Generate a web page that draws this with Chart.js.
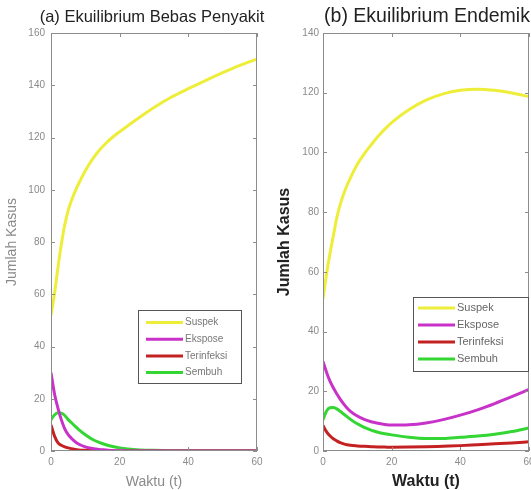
<!DOCTYPE html>
<html>
<head>
<meta charset="utf-8">
<script src="https://cdn.jsdelivr.net/npm/chart.js@4.4.0/dist/chart.umd.min.js"></script>
<style>
  body { margin: 0; background: #fff; }
  #wrapA { position: absolute; left: 0; top: 0; width: 280px; height: 490px; }
  #wrapB { position: absolute; left: 265px; top: 0; width: 266px; height: 490px; }
</style>
</head>
<body>
<div id="wrapA"><canvas id="chartA"></canvas></div>
<div id="wrapB"><canvas id="chartB"></canvas></div>
<script>
// time points (t) shared by both panels
const waktu = [0, 1, 2, 3, 4, 5, 6, 7, 8, 10, 12, 14, 16, 18, 20, 25, 30, 35, 40, 45, 50, 55, 60];
const namaSeri = ['Suspek', 'Ekspose', 'Terinfeksi', 'Sembuh'];
const xTicks = [0, 20, 40, 60];

// (a) disease-free equilibrium
const suspekA     = [52, 60, 70, 79, 86.5, 92, 96, 99.3, 102.2, 107.3, 111.5, 115, 117.8, 120.2, 122.2, 127, 131.5, 135.4, 138.7, 141.8, 144.8, 147.6, 150];
const eksposeA    = [30, 22, 16.5, 12, 8.5, 6.3, 4.8, 3.6, 2.7, 1.6, 1, 0.6, 0.4, 0.2, 0.1, 0, 0, 0, 0, 0, 0, 0, 0];
const terinfeksiA = [10, 5.8, 3.2, 2.2, 1.6, 1.2, 0.9, 0.6, 0.4, 0.25, 0.15, 0.1, 0.05, 0, 0, 0, 0, 0, 0, 0, 0, 0, 0];
const sembuhA     = [12, 13.8, 14.6, 14.5, 13.6, 12, 10.8, 9.5, 8.3, 6.2, 4.5, 3.3, 2.4, 1.7, 1.2, 0.5, 0.25, 0.1, 0.05, 0.05, 0.05, 0.05, 0.05];
const yTicksA = [0, 20, 40, 60, 80, 100, 120, 140, 160];

// (b) endemic equilibrium
const suspekB     = [51, 59, 66, 72, 78, 82.5, 86, 89, 91.5, 96, 99.5, 102.5, 105.3, 107.8, 110, 114.3, 117.5, 119.6, 120.8, 121.2, 120.8, 119.9, 118.7];
const eksposeB    = [30, 26.5, 23.5, 21.2, 19.2, 17.4, 15.8, 14.4, 13.3, 11.7, 10.6, 9.8, 9.3, 8.9, 8.7, 8.8, 9.4, 10.5, 12, 13.8, 15.9, 18.2, 20.6];
const terinfeksiB = [8.5, 6.5, 5.1, 4.1, 3.4, 2.8, 2.4, 2.1, 1.9, 1.7, 1.55, 1.45, 1.35, 1.3, 1.25, 1.3, 1.4, 1.6, 1.8, 2.1, 2.4, 2.7, 3.1];
const sembuhB     = [10.5, 13.3, 14.5, 14.6, 14.1, 13.3, 12.4, 11.5, 10.6, 9.1, 7.9, 7, 6.3, 5.8, 5.4, 4.6, 4.2, 4.2, 4.6, 5, 5.6, 6.5, 7.7];
const yTicksB = [0, 20, 40, 60, 80, 100, 120, 140];

const warna = ['#eeee3a', '#c832c8', '#c42222', '#33d633'];
const FONT = "'Liberation Sans', Arial, sans-serif";

// MATLAB-like frame with inward ticks, the panel title and a legend inside the axes
const framePlugin = {
  id: 'frame',
  afterDraw(chart, args, o) {
    const { ctx, chartArea: a, scales: { x, y } } = chart;
    ctx.save();
    ctx.strokeStyle = '#8c8c8c';
    ctx.lineWidth = 1;
    ctx.strokeRect(a.left + 0.5, a.top + 0.5, a.width - 1, a.height - 1);
    ctx.beginPath();
    x.ticks.forEach(t => {
      const px = Math.round(x.getPixelForValue(t.value)) + 0.5;
      ctx.moveTo(px, a.bottom); ctx.lineTo(px, a.bottom - 4);
      ctx.moveTo(px, a.top); ctx.lineTo(px, a.top + 4);
    });
    y.ticks.forEach(t => {
      const py = Math.round(y.getPixelForValue(t.value)) + 0.5;
      ctx.moveTo(a.left, py); ctx.lineTo(a.left + 4, py);
      ctx.moveTo(a.right, py); ctx.lineTo(a.right - 4, py);
    });
    ctx.stroke();

    // title, centred on the axes and allowed to run past them
    ctx.font = o.titleSize + 'px ' + FONT;
    ctx.fillStyle = '#222';
    ctx.textAlign = 'center';
    ctx.textBaseline = 'middle';
    ctx.fillText(o.title, (a.left + a.right) / 2 + o.titleDx, o.titleY);

    // legend box
    const bx = a.left + o.dx, by = a.top + o.dy;
    ctx.fillStyle = '#fff';
    ctx.fillRect(bx, by, o.w, o.h);
    ctx.strokeStyle = '#555';
    ctx.strokeRect(Math.round(bx) + 0.5, Math.round(by) + 0.5, o.w, o.h);
    ctx.font = o.size + 'px ' + FONT;
    ctx.textAlign = 'left';
    chart.data.datasets.forEach((ds, i) => {
      const ry = by + o.first + i * o.gap;
      ctx.strokeStyle = ds.borderColor;
      ctx.lineWidth = 3;
      ctx.beginPath();
      ctx.moveTo(bx + o.l0, ry); ctx.lineTo(bx + o.l1, ry);
      ctx.stroke();
      ctx.fillStyle = o.color;
      ctx.fillText(ds.label, bx + o.tx, ry);
    });
    ctx.restore();
  }
};

function buildDatasets(list) {
  return list.map((arr, i) => ({
    label: namaSeri[i],
    data: waktu.map((t, k) => ({ x: t, y: arr[k] })),
    borderColor: warna[i],
    borderWidth: 3,
    pointRadius: 0,
    cubicInterpolationMode: 'monotone',
    fill: false
  }));
}

function makeChart(id, cfg) {
  return new Chart(document.getElementById(id), {
    type: 'line',
    data: { datasets: buildDatasets(cfg.series) },
    options: {
      responsive: true,
      maintainAspectRatio: false,
      animation: false,
      layout: { padding: { left: 0, right: cfg.padRight, top: 33, bottom: 0 } },
      plugins: {
        legend: { display: false },
        tooltip: { enabled: false },
        title: { display: false },
        frame: cfg.legend
      },
      scales: {
        x: {
          type: 'linear', min: 0, max: 60,
          afterBuildTicks: s => { s.ticks = xTicks.map(v => ({ value: v })); },
          afterFit: s => { s.height = 39; s.paddingLeft = 0; s.paddingRight = 0; },
          grid: { display: false, drawTicks: false },
          border: { display: false },
          ticks: { color: '#8a8a8a', font: { family: FONT, size: 10 }, padding: 5, maxRotation: 0 },
          title: {
            display: true, text: 'Waktu (t)', color: cfg.labelColor,
            font: { family: FONT, size: cfg.xLabelSize, weight: cfg.labelWeight, lineHeight: 1 },
            padding: { top: 0, bottom: cfg.xLabelBottom }
          }
        },
        y: {
          min: 0, max: cfg.yMax,
          afterBuildTicks: s => { s.ticks = cfg.yTicks.map(v => ({ value: v })); },
          afterFit: s => { s.width = cfg.yWidth; s.paddingTop = 0; s.paddingBottom = 0; },
          grid: { display: false, drawTicks: false },
          border: { display: false },
          ticks: { color: '#8a8a8a', font: { family: FONT, size: 10 }, padding: cfg.yTickPad },
          title: {
            display: true, text: 'Jumlah Kasus', color: cfg.labelColor,
            font: { family: FONT, size: cfg.yLabelSize, weight: cfg.labelWeight, lineHeight: 1 },
            padding: { top: cfg.yLabelTop, bottom: 0 }
          }
        }
      }
    },
    plugins: [framePlugin]
  });
}

makeChart('chartA', {
  series: [suspekA, eksposeA, terinfeksiA, sembuhA],
  yMax: 160, yTicks: yTicksA, yWidth: 51, yTickPad: 6, padRight: 23,
  labelColor: '#8a8a8a', labelWeight: 'normal',
  xLabelSize: 14, xLabelBottom: 1, yLabelSize: 14, yLabelTop: 5,
  legend: {
    title: '(a) Ekuilibrium Bebas Penyakit', titleSize: 16.5, titleY: 17, titleDx: -2,
    dx: 87, dy: 277, w: 103, h: 73, first: 12.5, gap: 16.7, l0: 8, l1: 45, tx: 47, size: 10, color: '#777'
  }
});

makeChart('chartB', {
  series: [suspekB, eksposeB, terinfeksiB, sembuhB],
  yMax: 140, yTicks: yTicksB, yWidth: 58, yTickPad: 4, padRight: 2,
  labelColor: '#222', labelWeight: 'bold',
  xLabelSize: 16, xLabelBottom: 0, yLabelSize: 16, yLabelTop: 12,
  legend: {
    title: '(b) Ekuilibrium Endemik', titleSize: 19.5, titleY: 17, titleDx: 1,
    dx: 90, dy: 264, w: 115, h: 74, first: 11, gap: 17, l0: 5, l1: 42, tx: 44, size: 11, color: '#666'
  }
});
</script>
</body>
</html>
